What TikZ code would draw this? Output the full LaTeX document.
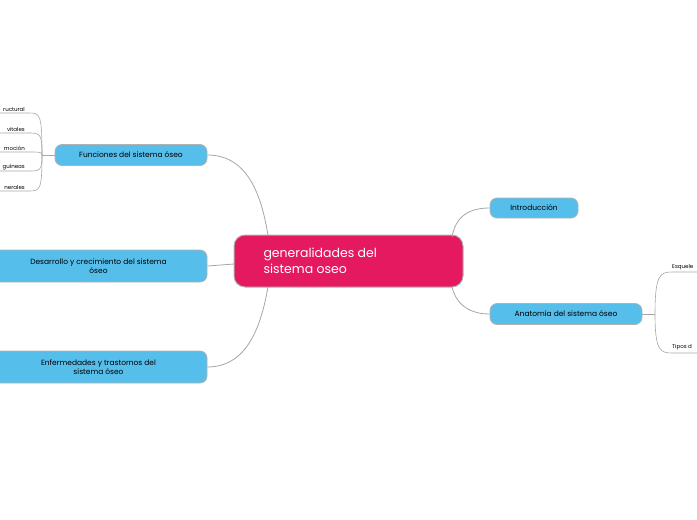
\documentclass[tikz,border=0pt]{standalone}
\usepackage{fontspec}
\setmainfont{Poppins}
\begin{document}
\begin{tikzpicture}[x=1pt,y=-1pt,
  blue/.style={draw=black!30,line width=0.8pt,fill=cB,rounded corners=7pt,font=\fontsize{7.5}{9}\selectfont,align=center,inner sep=0pt},
  leaf/.style={font=\fontsize{5.5}{6}\selectfont,inner sep=1pt,anchor=south east},
  leafR/.style={font=\fontsize{5.5}{6}\selectfont,inner sep=1pt,anchor=south west},
  con/.style={draw=black!35,line width=0.8pt}]
\definecolor{cB}{HTML}{56BEEB}
\definecolor{cM}{HTML}{E5195F}
\useasboundingbox (0,0) rectangle (697,520);
\node[draw=black!30,line width=1pt,fill=cM,rounded corners=11pt,minimum width=229pt,minimum height=52pt,inner sep=0pt] (c) at (348.5,261) {};
\node[text=white,font=\fontsize{12.5}{16}\selectfont,align=left,anchor=west] (ct) at (260,261) {generalidades del\\sistema oseo};
\node[blue,minimum width=152pt,minimum height=21pt] (f) at (131,155) {Funciones del sistema óseo};
\node[blue,minimum width=217pt,minimum height=32pt] (d) at (98.5,266) {Desarrollo y crecimiento del sistema\\óseo};
\node[blue,minimum width=217pt,minimum height=32pt] (e) at (98.5,367) {Enfermedades y trastornos del\\sistema óseo};
\node[blue,minimum width=88pt,minimum height=20pt] (i) at (534,208) {Introducción};
\node[blue,minimum width=152pt,minimum height=21pt] (a) at (566,314) {Anatomía del sistema óseo};
\draw[con] (f.east) .. controls (250,155) and (262,200) .. (268,235);
\draw[con] (d.east) -- (234,264);
\draw[con] (e.east) .. controls (250,367) and (262,320) .. (268,287);
\draw[con] (i.west) .. controls (465,208) and (455,220) .. (452,237);
\draw[con] (a.west) .. controls (465,314) and (455,300) .. (452,287);
% left leaves
\coordinate (lb) at (42,155);
\draw[con,line width=0.6pt] (f.west) -- (lb);
\foreach \n/\t/\y in {l1/ructural/113,l2/vitales/133,l3/moción/152,l4/guíneas/171,l5/nerales/191}{
  \node[leaf] (\n) at (26,\y) {\t};
  \draw[con,line width=0.6pt] (0,\y) -- (28,\y) .. controls (40,\y) and (42,\y) .. (lb);
}
% right leaves
\coordinate (rb) at (655,314);
\draw[con,line width=0.6pt] (a.east) -- (rb);
\node[leafR] (r1) at (671,271) {Esquele};
\node[leafR] (r2) at (671,351) {Tipos d};
\draw[con,line width=0.6pt] (rb) .. controls (655,275) and (660,272) .. (672,272) -- (697,272);
\draw[con,line width=0.6pt] (rb) .. controls (655,350) and (660,353) .. (672,353) -- (697,353);
\end{tikzpicture}
\end{document}
